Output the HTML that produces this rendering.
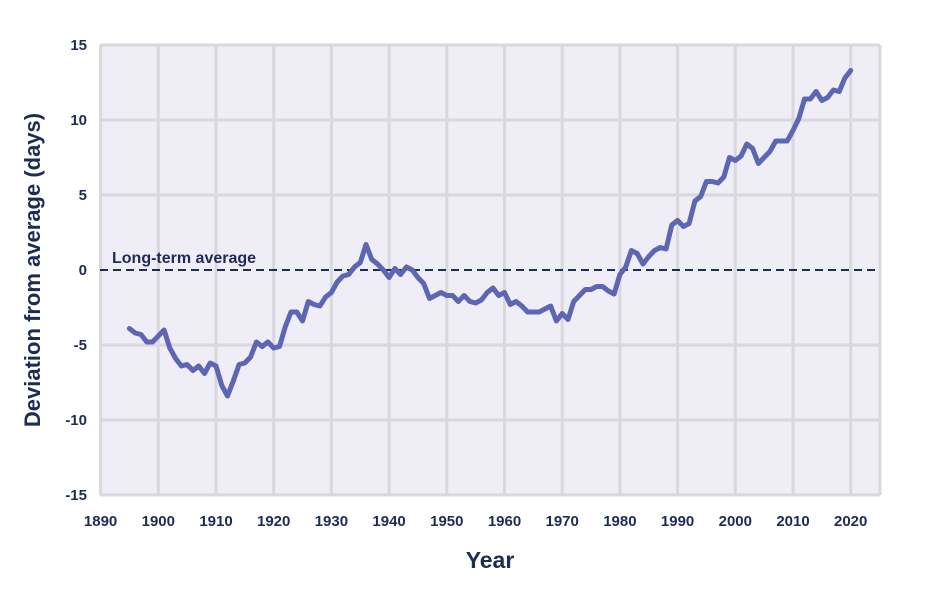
<!DOCTYPE html>
<html><head><meta charset="utf-8"><style>
body{margin:0;background:#fff;}
svg{display:block;font-family:"Liberation Sans",sans-serif;}
</style></head><body>
<svg id="chart" width="928" height="600">
<rect x="100" y="45" width="780" height="450" fill="#efedf6"/>
<g id="grid"></g>
<g id="ticks"></g>
<line x1="100" x2="880" y1="270" y2="270" stroke="#1c2d55" stroke-width="2" stroke-dasharray="8,5"/>
<text x="112" y="263" fill="#1c2d55" font-size="16" font-weight="bold">Long-term average</text>
<path id="series" fill="none" stroke="#5c66b3" stroke-width="5" stroke-linejoin="round" stroke-linecap="round"/>
<text x="490" y="568" text-anchor="middle" fill="#1c2d55" font-size="23" font-weight="bold">Year</text>
<text transform="translate(40,270) rotate(-90)" text-anchor="middle" fill="#1c2d55" font-size="22" font-weight="bold">Deviation from average (days)</text>
</svg>
<script>
const startYear = 1895;
const values = [-3.9,-4.2,-4.3,-4.8,-4.8,-4.4,-4.0,-5.2,-5.9,-6.4,-6.3,-6.7,-6.4,-6.9,-6.2,-6.4,-7.7,-8.4,-7.4,-6.3,-6.2,-5.8,-4.8,-5.1,-4.8,-5.2,-5.1,-3.8,-2.8,-2.8,-3.4,-2.1,-2.3,-2.4,-1.8,-1.5,-0.8,-0.4,-0.3,0.2,0.5,1.7,0.7,0.4,0.0,-0.5,0.1,-0.3,0.2,0.0,-0.5,-0.9,-1.9,-1.7,-1.5,-1.7,-1.7,-2.1,-1.7,-2.1,-2.2,-2.0,-1.5,-1.2,-1.7,-1.5,-2.3,-2.1,-2.4,-2.8,-2.8,-2.8,-2.6,-2.4,-3.4,-2.9,-3.3,-2.1,-1.7,-1.3,-1.3,-1.1,-1.1,-1.4,-1.6,-0.3,0.2,1.3,1.1,0.4,0.9,1.3,1.5,1.4,3.0,3.3,2.9,3.1,4.6,4.9,5.9,5.9,5.8,6.2,7.5,7.3,7.6,8.4,8.1,7.1,7.5,7.9,8.6,8.6,8.6,9.3,10.1,11.4,11.4,11.9,11.3,11.5,12.0,11.9,12.8,13.3];
const xTicks = [1890,1900,1910,1920,1930,1940,1950,1960,1970,1980,1990,2000,2010,2020];
const yTicks = [-15,-10,-5,0,5,10,15];
const NS='http://www.w3.org/2000/svg';
const x = yr => 100.6 + (yr-1890)*5.77;
const y = v => 270 - v*15;
const grid=document.getElementById('grid'), ticks=document.getElementById('ticks');
xTicks.forEach(t=>{
  if(t>1890){const l=document.createElementNS(NS,'line');
  l.setAttribute('x1',x(t));l.setAttribute('x2',x(t));l.setAttribute('y1',45);l.setAttribute('y2',495);
  l.setAttribute('stroke','#d9d8dc');l.setAttribute('stroke-width','3');
  
  
  grid.appendChild(l);}
  const tx=document.createElementNS(NS,'text');
  tx.setAttribute('x',x(t));tx.setAttribute('y',526);tx.setAttribute('text-anchor','middle');
  tx.setAttribute('font-size','15');tx.setAttribute('font-weight','bold');tx.setAttribute('fill','#1c2d55');tx.textContent=t;
  
  
  ticks.appendChild(tx);
});
const rb=document.createElementNS(NS,'line');
rb.setAttribute('x1',880);rb.setAttribute('x2',880);rb.setAttribute('y1',45);rb.setAttribute('y2',495);
rb.setAttribute('stroke','#d9d8dc');rb.setAttribute('stroke-width','3');


grid.appendChild(rb);
const lb=document.createElementNS(NS,'line');
lb.setAttribute('x1',100.6);lb.setAttribute('x2',100.6);lb.setAttribute('y1',45);lb.setAttribute('y2',495);
lb.setAttribute('stroke','#d9d8dc');lb.setAttribute('stroke-width','3');


grid.appendChild(lb);
yTicks.forEach(t=>{
  if(t!==0){const l=document.createElementNS(NS,'line');
  l.setAttribute('x1',100);l.setAttribute('x2',880);l.setAttribute('y1',y(t));l.setAttribute('y2',y(t));
  l.setAttribute('stroke','#d9d8dc');l.setAttribute('stroke-width','3');
  
  
  grid.appendChild(l);}
  const tx=document.createElementNS(NS,'text');
  tx.setAttribute('x',87);tx.setAttribute('y',y(t)+5);tx.setAttribute('text-anchor','end');
  tx.setAttribute('font-size','15');tx.setAttribute('font-weight','bold');tx.setAttribute('fill','#1c2d55');tx.textContent=t;
  
  
  ticks.appendChild(tx);
});
document.getElementById('series').setAttribute('d',values.map((v,i)=>(i?'L':'M')+x(startYear+i).toFixed(1)+','+y(v).toFixed(1)).join(''));
</script>
</body></html>
